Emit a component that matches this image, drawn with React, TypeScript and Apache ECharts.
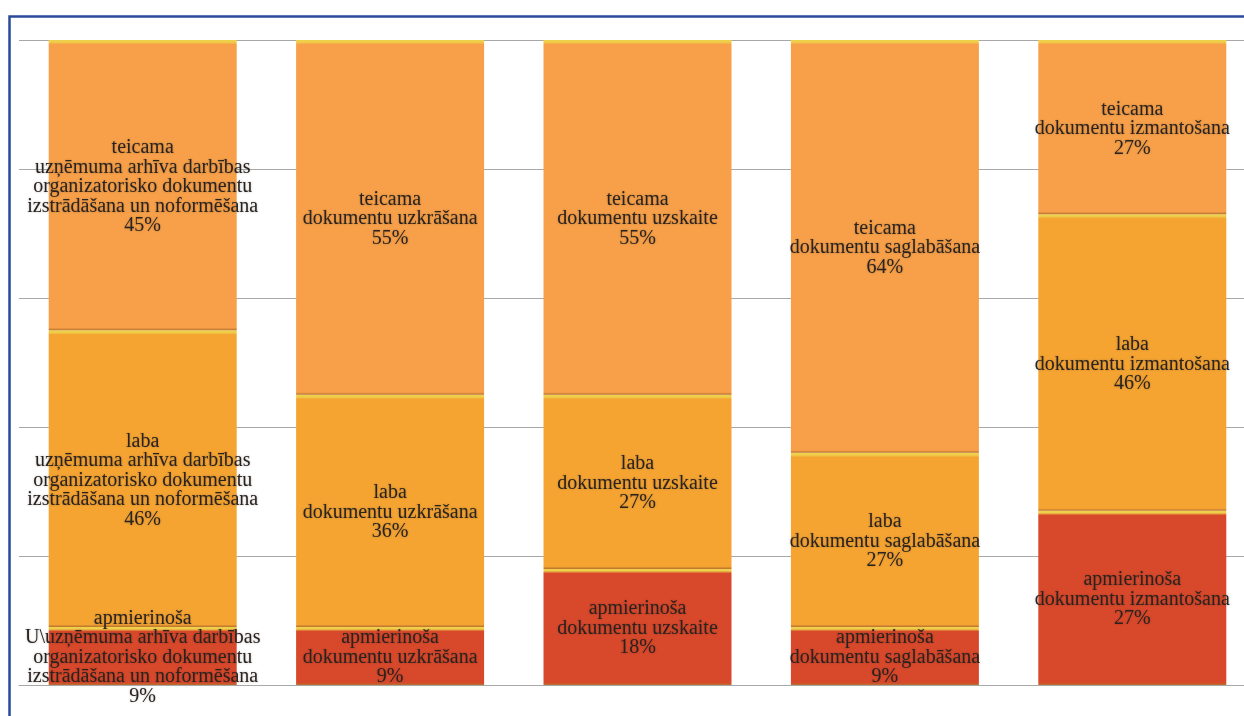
import React, { useEffect, useRef } from "react";
import * as echarts from "echarts";

const categories = [
  "uzņēmuma arhīva darbības\norganizatorisko dokumentu\nizstrādāšana un noformēšana",
  "dokumentu uzkrāšana",
  "dokumentu uzskaite",
  "dokumentu saglabāšana",
  "dokumentu izmantošana",
];
// the first bar's "apmierinoša" label carries a typo in the source
const apmierinosaLabelCategories = [
  "U\\uzņēmuma arhīva darbības\norganizatorisko dokumentu\nizstrādāšana un noformēšana",
  "dokumentu uzkrāšana",
  "dokumentu uzskaite",
  "dokumentu saglabāšana",
  "dokumentu izmantošana",
];
const seriesNames = ["apmierinoša", "laba", "teicama"];
const apmierinosa = [9, 9, 18, 9, 27];
const laba = [46, 36, 27, 27, 46];
const teicama = [45, 55, 55, 64, 27];

const PLOT_H = 645;

function bevel(base: string, value: number) {
  const h = (value / 100) * PLOT_H;
  const a = Math.min(0.2, 2 / h);
  const b = Math.min(0.3, 4.5 / h);
  const c = Math.max(0.7, 1 - 2.5 / h);
  return {
    type: "linear",
    x: 0,
    y: 0,
    x2: 0,
    y2: 1,
    colorStops: [
      { offset: 0, color: "#EFD04A" },
      { offset: a, color: "#EFD04A" },
      { offset: b, color: base },
      { offset: c, color: base },
      { offset: 1, color: "#B9702E" },
    ],
  };
}

export default function App() {
  const ref = useRef<HTMLDivElement>(null);
  useEffect(() => {
    if (!ref.current) return;
    const chart = echarts.init(ref.current, null, { renderer: "svg" });
    const colors = ["#D8482B", "#F5A432", "#F7A049"];
    const values = [apmierinosa, laba, teicama];
    const labelCats = [apmierinosaLabelCategories, categories, categories];
    chart.setOption({
      animation: false,
      backgroundColor: "#ffffff",
      graphic: [
        {
          type: "rect",
          left: 7,
          top: 14,
          shape: { width: 1320, height: 800 },
          style: { fill: "none", stroke: "#2B4A9B", lineWidth: 2.5 },
          silent: true,
          z: 100,
        },
      ],
      grid: { left: 19, top: 40, width: 1237, height: PLOT_H },
      xAxis: {
        type: "category",
        data: categories,
        axisLine: { show: true, lineStyle: { color: "#A8A8A8", width: 1 } },
        axisTick: { show: false },
        axisLabel: { show: false },
      },
      yAxis: {
        type: "value",
        min: 0,
        max: 100,
        interval: 20,
        axisLabel: { show: false },
        axisLine: { show: false },
        axisTick: { show: false },
        splitLine: { lineStyle: { color: "#A8A8A8", width: 1 } },
      },
      series: seriesNames.map((name, si) => ({
        name,
        type: "bar",
        stack: "total",
        barWidth: 188,
        data: values[si].map((v) => ({
          value: v,
          itemStyle: { color: bevel(colors[si], v) },
        })),
        label: {
          show: true,
          position: "inside",
          fontFamily: "'Liberation Serif', 'DejaVu Serif', serif",
          fontSize: 20,
          lineHeight: 19.5,
          color: "#2A221E",
          textShadowColor: "rgba(0,0,0,0.25)",
          textShadowBlur: 2,
          formatter: (p: any) =>
            `${name}\n${labelCats[si][p.dataIndex]}\n${p.value}%`,
        },
      })),
    });
    return () => chart.dispose();
  }, []);
  return (
    <div
      style={{
        position: "absolute",
        left: 0,
        top: 0,
        width: 1244,
        height: 716,
        overflow: "hidden",
      }}
    >
      <div ref={ref} style={{ width: 1290, height: 716 }} />
    </div>
  );
}
